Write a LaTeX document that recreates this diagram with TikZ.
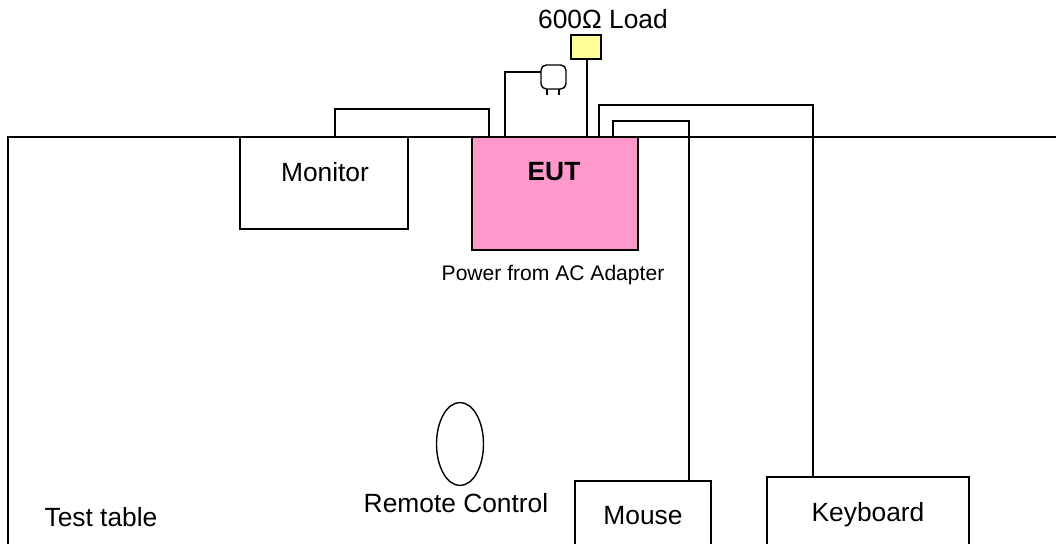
\documentclass[tikz,border=0pt]{standalone}
\usepackage{fontspec}
\setmainfont{Liberation Sans}
\usetikzlibrary{positioning, shapes.geometric}

\definecolor{eutpink}{HTML}{FF99CC}
\definecolor{loadyellow}{HTML}{FFFF99}

\tikzset{
  unit/.style={draw, line width=0.8pt, inner sep=0pt, outer sep=0pt},
  cable/.style={line width=0.8pt},
  caption/.style={inner sep=0pt, font=\fontsize{15pt}{18pt}\selectfont},
  smallcaption/.style={inner sep=0pt, font=\fontsize{12pt}{14pt}\selectfont},
}

\begin{document}
\begin{tikzpicture}[x=0.02cm, y=-0.02cm]

    \clip (0,0) rectangle (1056,544);

    % table edge
    \node [unit, anchor=north west, minimum width=1200*0.02cm, minimum height=600*0.02cm] (table) at (8,137) {};

    \node [unit, fill=white, anchor=north west, minimum width=168*0.02cm, minimum height=92*0.02cm] (monitor) at (240,137) {};
    \node [unit, fill=eutpink, anchor=north west, minimum width=166*0.02cm, minimum height=113*0.02cm] (eut) at (472,137) {};
    \node [unit, fill=loadyellow, anchor=north west, minimum width=30*0.02cm, minimum height=24*0.02cm] (load) at (571,35) {};
    \node [unit, rounded corners=3pt, anchor=north west, minimum width=25*0.02cm, minimum height=24*0.02cm] (plug) at (541,65) {};
    \node [unit, anchor=north west, minimum width=136*0.02cm, minimum height=100*0.02cm] (mouse) at (575,481) {};
    \node [unit, anchor=north west, minimum width=202*0.02cm, minimum height=100*0.02cm] (keyboard) at (767,477) {};
    \node [unit, ellipse, minimum width=47*0.02cm, minimum height=83*0.02cm] (remote) at (460,444) {};

    \node [caption] (loadtext) at (603,19) {600Ω Load};
    \node [caption] (monitortext) at (325,172) {Monitor};
    \node [caption, font=\fontsize{15pt}{18pt}\selectfont\bfseries] (euttext) at (554,172) {EUT};
    \node [smallcaption] (powertext) at (553,275) {Power from AC Adapter};
    \node [caption] (remotetext) at (456,503) {Remote Control};
    \node [caption] (tabletext) at (101,517) {Test table};
    \node [caption] (mousetext) at (643,516) {Mouse};
    \node [caption] (keyboardtext) at (868,515) {Keyboard};

    \coordinate (monA) at (335,137);
    \coordinate (monB) at (489,137);
    \coordinate (plugA) at (505,137);
    \coordinate (plugB) at (541,72);
    \coordinate (loadA) at (587,137);
    \coordinate (loadB) at (587,59);
    \coordinate (keyA) at (599,137);
    \coordinate (keyB) at (813,477);
    \coordinate (mouseA) at (613,137);
    \coordinate (mouseB) at (689,481);
    \coordinate (prongA) at (547,89);
    \coordinate (prongB) at (547,95);
    \coordinate (prongC) at (559,89);
    \coordinate (prongD) at (559,95);

    \draw [cable] (monA) -- ++(0,-28) -| (monB);
    \draw [cable] (plugA) |- (plugB);
    \draw [cable] (loadA) -- (loadB);
    \draw [cable] (keyA) |- (813,105) -- (keyB);
    \draw [cable] (mouseA) |- (689,121) -- (mouseB);
    \draw [cable] (prongA) -- (prongB);
    \draw [cable] (prongC) -- (prongD);

\end{tikzpicture}
\end{document}
